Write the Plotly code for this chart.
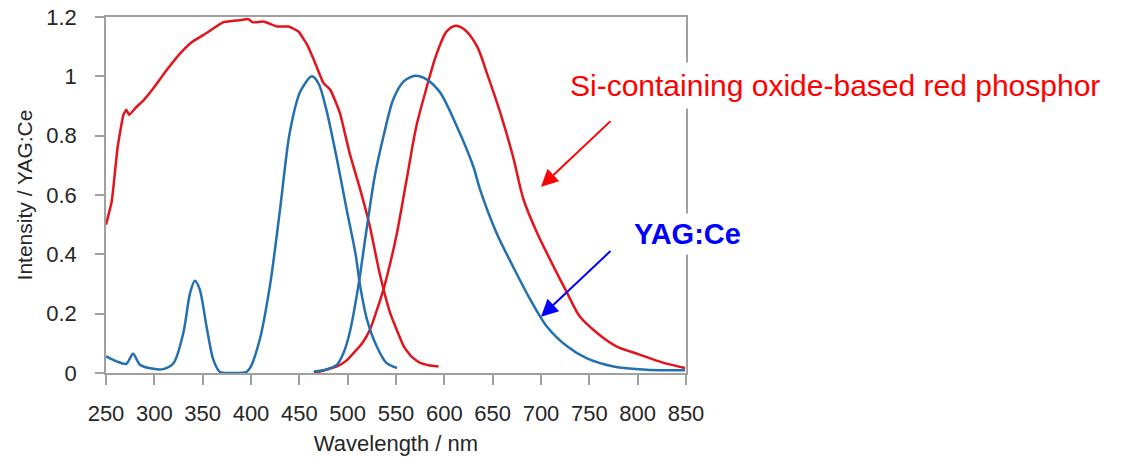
import plotly.graph_objects as go

# ---- data ----
red_exc_nm = [250, 256, 262, 268, 271, 274, 281, 289, 299, 313, 327, 340, 354, 371, 382, 390, 397, 402, 413, 427, 439, 449, 458, 465, 475, 482, 492, 502, 513, 523, 533, 544, 558, 566, 575, 584, 594]
red_exc_v = [0.50, 0.58, 0.76, 0.87, 0.887, 0.87, 0.895, 0.92, 0.96, 1.022, 1.078, 1.118, 1.146, 1.182, 1.187, 1.19, 1.193, 1.182, 1.185, 1.168, 1.168, 1.151, 1.107, 1.056, 0.977, 0.955, 0.876, 0.741, 0.618, 0.494, 0.337, 0.202, 0.09, 0.055, 0.034, 0.026, 0.022]

red_em_nm = [465, 477, 489, 498, 506, 515, 523, 530, 537, 544, 551, 561, 571, 582, 590, 596, 602, 611, 621, 634, 644, 658, 671, 682, 696, 713, 727, 740, 758, 778, 802, 827, 849]
red_em_v = [0.0, 0.01, 0.022, 0.04, 0.067, 0.1, 0.146, 0.21, 0.281, 0.37, 0.472, 0.652, 0.831, 0.966, 1.056, 1.11, 1.15, 1.17, 1.157, 1.1, 1.011, 0.876, 0.73, 0.584, 0.472, 0.359, 0.27, 0.191, 0.135, 0.09, 0.062, 0.034, 0.017]

yag_exc_nm = [250, 261, 271, 278, 285, 299, 309, 320, 330, 337, 342, 347, 354, 361, 368, 380, 395, 399, 409, 420, 430, 440, 451, 463, 470, 478, 489, 499, 508, 513, 520, 530, 540, 551]
yag_exc_v = [0.056, 0.039, 0.031, 0.065, 0.028, 0.014, 0.013, 0.034, 0.135, 0.27, 0.311, 0.281, 0.157, 0.045, 0.003, 0.0, 0.003, 0.017, 0.112, 0.303, 0.55, 0.809, 0.949, 1.0, 0.975, 0.887, 0.719, 0.55, 0.404, 0.292, 0.18, 0.09, 0.034, 0.017]

yag_em_nm = [465, 478, 489, 496, 502, 511, 520, 528, 537, 547, 558, 570, 582, 596, 613, 630, 637, 654, 671, 689, 706, 727, 747, 775, 809, 849]
yag_em_v = [0.005, 0.012, 0.028, 0.07, 0.135, 0.292, 0.494, 0.663, 0.797, 0.921, 0.983, 1.002, 0.989, 0.944, 0.831, 0.696, 0.618, 0.472, 0.359, 0.247, 0.157, 0.09, 0.05, 0.022, 0.011, 0.009]

x_ticks = [250, 300, 350, 400, 450, 500, 550, 600, 650, 700, 750, 800, 850]
y_ticks = [0, 0.2, 0.4, 0.6, 0.8, 1, 1.2]

RED = "#e2141c"
BLUE = "#2270b0"
FONT = "Liberation Sans, Arial, sans-serif"

fig = go.Figure()
fig.add_trace(go.Scatter(x=red_exc_nm, y=red_exc_v, mode="lines",
                         line=dict(color=RED, width=2.5, shape="spline", smoothing=0.4)))
fig.add_trace(go.Scatter(x=red_em_nm, y=red_em_v, mode="lines",
                         line=dict(color=RED, width=2.5, shape="spline", smoothing=0.8)))
fig.add_trace(go.Scatter(x=yag_exc_nm, y=yag_exc_v, mode="lines",
                         line=dict(color=BLUE, width=2.5, shape="spline", smoothing=0.8)))
fig.add_trace(go.Scatter(x=yag_em_nm, y=yag_em_v, mode="lines",
                         line=dict(color=BLUE, width=2.5, shape="spline", smoothing=0.8)))

# page body margin is removed by the post script, so the figure fills the window
W, H = 1127, 459
L, T = 106, 17
R = W - 686
B = H - 373
pw, ph = W - L - R, H - T - B

def px(xp):
    return (xp - L) / pw

def py(yp):
    return (H - B - yp) / ph

annotations = [
    # arrows
    dict(x=700, y=0.628, xref="x", yref="y", ax=71, ay=-67, text="", showarrow=True,
         arrowhead=2, arrowsize=1.7, arrowwidth=2, arrowcolor="#ff0000"),
    dict(x=700, y=0.19, xref="x", yref="y", ax=71, ay=-67, text="", showarrow=True,
         arrowhead=2, arrowsize=1.7, arrowwidth=2, arrowcolor="#0000ff"),
    # labels
    dict(x=px(835), y=py(86), xref="paper", yref="paper", xanchor="center", yanchor="middle",
         text="Si-containing oxide-based red phosphor", showarrow=False,
         font=dict(family=FONT, size=30, color="#ff0000"), bgcolor="white", borderpad=6),
    dict(x=px(687), y=py(234), xref="paper", yref="paper", xanchor="center", yanchor="middle",
         text="<b>YAG:Ce</b>", showarrow=False,
         font=dict(family=FONT, size=29, color="#0000ff"), bgcolor="white", borderpad=4),
]

fig.update_layout(
    width=W, height=H,
    margin=dict(l=L, r=R, t=T, b=B, pad=0, autoexpand=False),
    paper_bgcolor="white", plot_bgcolor="white",
    showlegend=False,
    font=dict(family=FONT, color="#262626"),
    annotations=annotations,
    xaxis=dict(range=[250, 850], tickvals=x_ticks, ticks="outside", ticklen=10, tickwidth=1.5,
               tickcolor="#a0a0a0", showline=True, linecolor="#a0a0a0", linewidth=1.5, mirror=True,
               showgrid=False, zeroline=False, tickfont=dict(size=22, color="#262626"),
               ticklabelstandoff=10, automargin=False, ticklabeloverflow="allow",
               title=dict(text="Wavelength / nm", font=dict(size=22, color="#262626"), standoff=10)),
    yaxis=dict(range=[0, 1.2], tickvals=y_ticks, ticks="outside", ticklen=9, tickwidth=1.5,
               tickcolor="#a0a0a0", showline=True, linecolor="#a0a0a0", linewidth=1.5, mirror=True,
               showgrid=False, zeroline=False, tickfont=dict(size=22, color="#262626"),
               ticklabelstandoff=14, automargin=False, ticklabeloverflow="allow",
               title=dict(text="Intensity / YAG:Ce", font=dict(size=21, color="#262626"), standoff=8)),
)

fig.write_html("out.html", config={"displayModeBar": False},
               post_script="document.body.style.margin='0px';")
